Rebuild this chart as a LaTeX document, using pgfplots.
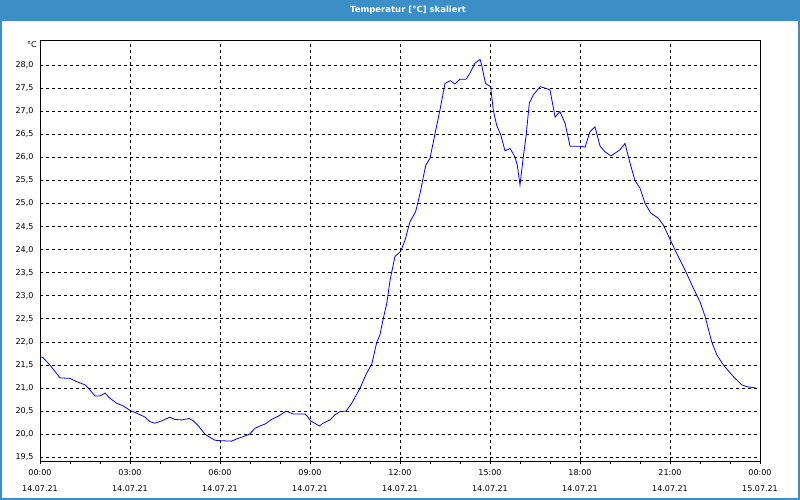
\documentclass[border=0pt]{standalone}
\usepackage{pgfplots}
\pgfplotsset{compat=1.18}
\usepackage{fontspec}
\setmainfont{DejaVu Sans}
\definecolor{titleblue}{RGB}{60,143,198}
\begin{document}
\begin{tikzpicture}[x=1pt,y=1pt]
\useasboundingbox (0,0) rectangle (800,500);
\fill[white] (0,0) rectangle (800,500);
\fill[titleblue] (0,480) rectangle (800,500);
\draw[titleblue, line width=2pt] (1,1) rectangle (799,480);
\node[text=white, font=\fontsize{8.5}{10}\selectfont\bfseries] at (408,490) {Temperatur [°C] skaliert};
\begin{axis}[
  at={(40pt,39pt)}, anchor=south west, scale only axis,
  width=720pt, height=420.5pt,
  xmin=0, xmax=24, ymin=19.42, ymax=28.53,
  clip mode=individual,
  axis line style={black, line width=0.8pt},
  grid=major,
  major grid style={black, dash pattern=on 3pt off 3pt, line width=0.8pt},
  xtick={0,3,6,9,12,15,18,21,24},
  xticklabels={00:00\\14.07.21,03:00\\14.07.21,06:00\\14.07.21,09:00\\14.07.21,12:00\\14.07.21,15:00\\14.07.21,18:00\\14.07.21,21:00\\14.07.21,00:00\\15.07.21},
  minor x tick num=2,
  ytick={19.5,20.0,20.5,21.0,21.5,22.0,22.5,23.0,23.5,24.0,24.5,25.0,25.5,26.0,26.5,27.0,27.5,28.0},
  tick align=outside,
  xtick pos=lower, ytick pos=left,
  major tick length=3pt, minor tick length=3pt,
  tick style={black, line width=0.8pt},
  ytick style={draw=none},
  tick label style={font=\fontsize{8}{9.5}\selectfont},
  xticklabel style={align=center, font=\fontsize{8}{16}\selectfont, yshift=-2pt},
  yticklabel style={/pgf/number format/.cd, fixed, fixed zerofill, precision=1, use comma, assume math mode=true},
]
\addplot[blue, line width=0.8pt, mark=none] table {
0.00 21.68
0.10 21.66
0.33 21.50
0.50 21.36
0.67 21.22
1.00 21.21
1.22 21.14
1.50 21.07
1.61 21.00
1.83 20.83
2.00 20.83
2.17 20.89
2.33 20.78
2.56 20.67
2.78 20.61
3.02 20.51
3.28 20.44
3.50 20.37
3.67 20.27
3.83 20.24
4.06 20.29
4.33 20.37
4.50 20.32
4.72 20.31
4.97 20.34
5.11 20.29
5.28 20.18
5.50 20.00
5.67 19.93
5.83 19.87
6.00 19.86
6.39 19.85
6.56 19.90
6.78 19.95
6.98 20.00
7.17 20.13
7.33 20.18
7.50 20.22
7.72 20.32
7.94 20.39
8.20 20.50
8.44 20.44
8.61 20.44
8.83 20.44
8.91 20.39
9.02 20.29
9.31 20.18
9.44 20.24
9.67 20.31
9.83 20.42
10.00 20.49
10.20 20.50
10.39 20.67
10.67 21.00
10.87 21.30
11.06 21.52
11.22 21.98
11.33 22.15
11.44 22.50
11.56 22.84
11.67 23.34
11.83 23.85
12.02 23.96
12.17 24.21
12.33 24.60
12.52 24.82
12.67 25.22
12.78 25.58
12.86 25.83
13.00 25.98
13.17 26.52
13.33 27.02
13.50 27.60
13.67 27.66
13.83 27.59
14.00 27.69
14.20 27.69
14.33 27.82
14.50 28.04
14.67 28.12
14.72 28.00
14.85 27.60
15.02 27.53
15.11 27.02
15.22 26.70
15.36 26.48
15.50 26.14
15.67 26.19
15.83 26.01
15.91 25.83
16.00 25.40
16.11 26.01
16.20 26.45
16.31 27.17
16.44 27.35
16.67 27.53
16.83 27.50
17.00 27.46
17.17 26.87
17.33 26.99
17.50 26.74
17.67 26.24
18.00 26.24
18.17 26.22
18.33 26.55
18.50 26.66
18.67 26.24
18.83 26.12
19.03 26.03
19.33 26.16
19.50 26.30
19.67 25.87
19.83 25.50
20.00 25.33
20.17 25.00
20.36 24.79
20.61 24.68
20.78 24.53
21.01 24.21
21.22 23.92
21.50 23.56
21.78 23.16
22.00 22.87
22.17 22.55
22.39 22.00
22.56 21.72
22.78 21.50
23.11 21.25
23.39 21.07
23.56 21.03
23.78 21.01
23.87 21.00
};
\node[anchor=north east, font=\fontsize{8}{9.5}\selectfont, inner sep=0pt, xshift=-3pt, yshift=-1pt] at (rel axis cs:0,1) {°C};
\end{axis}
\end{tikzpicture}
\end{document}
